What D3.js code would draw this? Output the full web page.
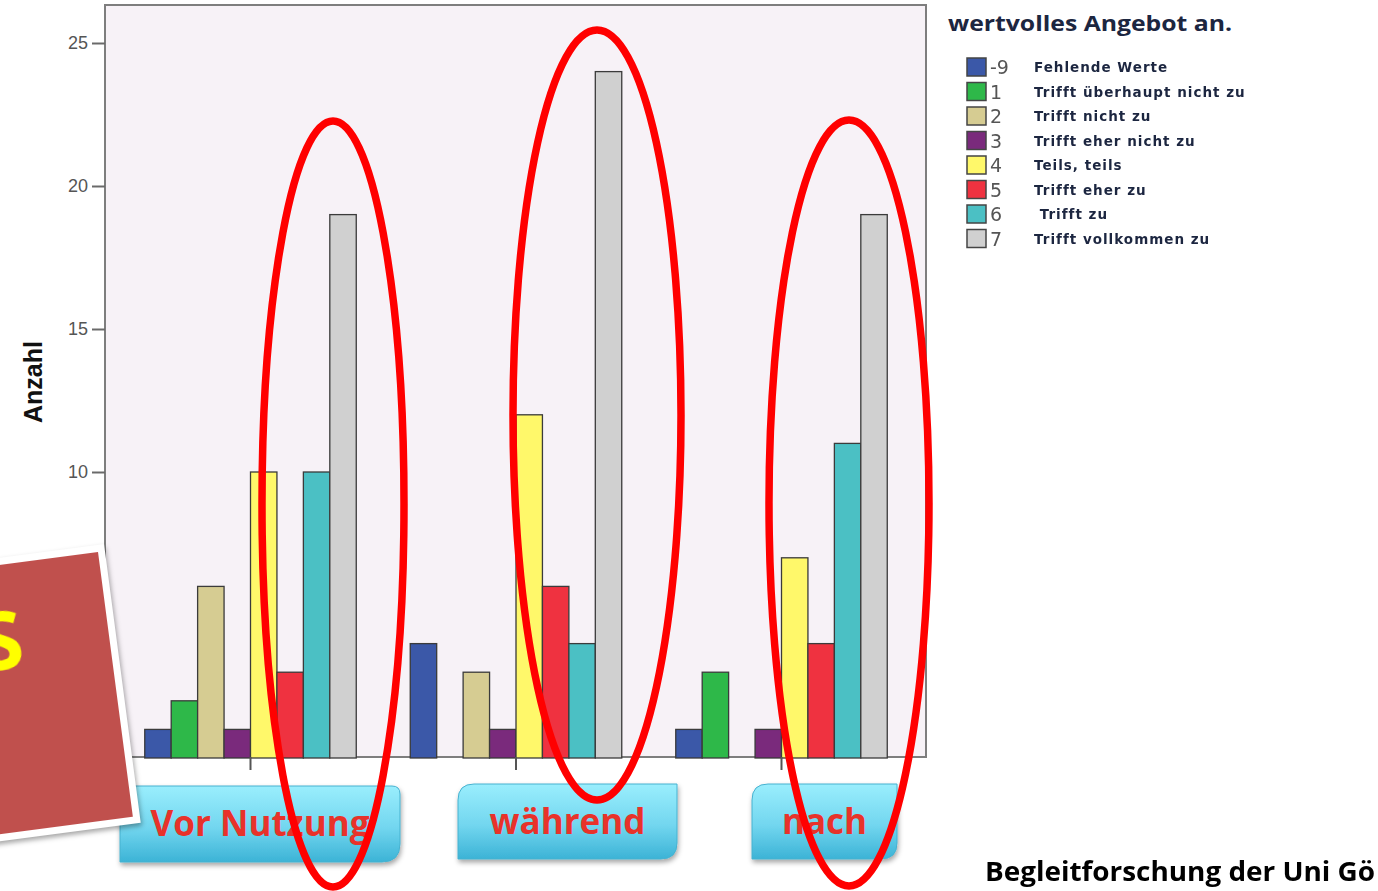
<!DOCTYPE html>
<html><head><meta charset="utf-8">
<script src="https://cdn.jsdelivr.net/npm/d3@7"></script>
<style>body{margin:0;background:#fff;} svg{display:block;}</style>
</head><body>
<svg id="c" width="1378" height="891"></svg>
<script>
const groups = ["Vor Nutzung", "während", "nach"];
const codes = ["-9", "1", "2", "3", "4", "5", "6", "7"];
const codeLabels = ["Fehlende Werte", "Trifft überhaupt nicht zu", "Trifft nicht zu", "Trifft eher nicht zu", "Teils, teils", "Trifft eher zu", " Trifft zu", "Trifft vollkommen zu"];
const colors = ["#3a58a8", "#2db84a", "#d6cc92", "#7a2a7c", "#fff86a", "#ef3340", "#4cc0c4", "#d0d0d0"];
const valsVor = [1, 2, 6, 1, 10, 3, 10, 19];
const valsWaehrend = [4, 0, 3, 1, 12, 6, 4, 24];
const valsNach = [1, 3, 0, 1, 7, 4, 11, 19];
const yTicks = [10, 15, 20, 25];
const title = "wertvolles Angebot an.";
const yTitle = "Anzahl";
const footer = "Begleitforschung der Uni Gö";

const series = [valsVor, valsWaehrend, valsNach];
const svg = d3.select("#c");

const plot = {l: 105, r: 926, t: 5, b: 757};
const x = d3.scaleBand().domain(groups).range([117.75, 914.25]);
const xi = d3.scaleBand().domain(codes).range([27, x.bandwidth() - 27]);
const y = d3.scaleLinear().domain([0, 25]).range([758, 43]);

// defs
const defs = svg.append("defs");
const grad = defs.append("linearGradient").attr("id", "btn").attr("x1", 0).attr("x2", 0).attr("y1", 0).attr("y2", 1);
grad.append("stop").attr("offset", "0%").attr("stop-color", "#9aeefd");
grad.append("stop").attr("offset", "55%").attr("stop-color", "#72d6ef");
grad.append("stop").attr("offset", "100%").attr("stop-color", "#3cb3d6");
const sh = defs.append("filter").attr("id", "sh").attr("x", "-20%").attr("y", "-20%").attr("width", "140%").attr("height", "150%");
sh.append("feDropShadow").attr("dx", 1).attr("dy", 3).attr("stdDeviation", 2.5).attr("flood-color", "#000").attr("flood-opacity", 0.35);
const bl = defs.append("filter").attr("id", "bl");
bl.append("feGaussianBlur").attr("stdDeviation", 0.5);

// plot background & frame
svg.append("rect").attr("x", plot.l).attr("y", plot.t).attr("width", plot.r - plot.l).attr("height", plot.b - plot.t)
  .attr("fill", "#f7f2f7").attr("stroke", "#7e7e7e").attr("stroke-width", 2);

// bars
const g = svg.append("g").attr("filter", "url(#bl)");
groups.forEach((grp, gi) => {
  const gg = g.append("g").attr("transform", `translate(${x(grp)},0)`);
  gg.selectAll("rect").data(series[gi].map((v, i) => ({v, i}))).join("rect")
    .filter(d => d.v > 0)
    .attr("x", d => xi(codes[d.i]))
    .attr("width", xi.bandwidth())
    .attr("y", d => y(d.v))
    .attr("height", d => y(0) - y(d.v))
    .attr("fill", d => colors[d.i])
    .attr("stroke", "#3a3a3a").attr("stroke-width", 1.3);
});

// y axis
const yAxis = d3.axisLeft(y).tickValues(yTicks).tickSize(13).tickPadding(4);
const ya = svg.append("g").attr("transform", `translate(${plot.l},0)`).call(yAxis);
ya.select(".domain").remove();
ya.selectAll(".tick line").attr("stroke", "#6a6a6a").attr("stroke-width", 2);
ya.selectAll(".tick text").attr("fill", "#555").attr("font-family", "Liberation Sans, Arial, sans-serif").attr("font-size", 18);

// x axis ticks
const xAxis = d3.axisBottom(x).tickSize(13).tickFormat("");
const xa = svg.append("g").attr("transform", `translate(0,${plot.b})`).call(xAxis);
xa.select(".domain").remove();
xa.selectAll(".tick line").attr("stroke", "#555").attr("stroke-width", 2);

// y title
svg.append("text").attr("transform", "translate(42,382) rotate(-90)").attr("text-anchor", "middle")
  .attr("font-family", "Liberation Sans, Arial, sans-serif").attr("font-weight", "bold").attr("font-size", 25).attr("fill", "#111").text(yTitle);

// title & legend
svg.append("text").attr("x", 948).attr("y", 31).attr("font-family", "Open Sans, sans-serif").attr("font-weight", "bold")
  .attr("font-size", 22).attr("fill", "#1c2640").attr("textLength", 284).attr("lengthAdjust", "spacingAndGlyphs").text(title);
const lg = svg.append("g").attr("filter", "url(#bl)");
codes.forEach((c, i) => {
  const cy = 67 + i * 24.5;
  lg.append("rect").attr("x", 967).attr("y", cy - 9).attr("width", 19).attr("height", 18)
    .attr("fill", colors[i]).attr("stroke", "#444").attr("stroke-width", 1.5);
  lg.append("text").attr("x", 990).attr("y", cy + 7).attr("font-family", "DejaVu Sans, sans-serif").attr("font-size", 19)
    .attr("fill", "#555").text(c);
  lg.append("text").attr("x", 1034).attr("y", cy + 5).attr("font-family", "DejaVu Sans, sans-serif").attr("font-size", 13.5)
    .attr("font-weight", "bold").attr("letter-spacing", 1).attr("fill", "#1c2640").style("white-space", "pre").text(codeLabels[i]);
});

// buttons
const buttons = [
  {x0: 120, x1: 400, y0: 786, y1: 862, tl: 0, tr: 8, br: 18, bl: 0},
  {x0: 458, x1: 677, y0: 784, y1: 859, tl: 16, tr: 0, br: 16, bl: 0},
  {x0: 752, x1: 897, y0: 784, y1: 859, tl: 16, tr: 0, br: 16, bl: 0}
];
function rr(b) {
  const p = d3.path();
  p.moveTo(b.x0 + b.tl, b.y0);
  p.lineTo(b.x1 - b.tr, b.y0);
  if (b.tr) p.quadraticCurveTo(b.x1, b.y0, b.x1, b.y0 + b.tr);
  p.lineTo(b.x1, b.y1 - b.br);
  if (b.br) p.quadraticCurveTo(b.x1, b.y1, b.x1 - b.br, b.y1);
  p.lineTo(b.x0 + b.bl, b.y1);
  p.lineTo(b.x0, b.y0 + b.tl);
  if (b.tl) p.quadraticCurveTo(b.x0, b.y0, b.x0 + b.tl, b.y0);
  p.closePath();
  return p.toString();
}
groups.forEach((grp, i) => {
  const b = buttons[i];
  svg.append("path").attr("d", rr(b)).attr("fill", "url(#btn)").attr("stroke", "#47b2d0").attr("stroke-width", 1).attr("filter", "url(#sh)");
  svg.append("text").attr("x", (b.x0 + b.x1) / 2).attr("y", (b.y0 + b.y1) / 2 + 12).attr("text-anchor", "middle")
    .attr("font-family", "Open Sans, sans-serif").attr("font-weight", "bold").attr("font-size", 35).attr("fill", "#e8322a").text(grp);
});

// red card
const card = svg.append("g").attr("transform", "translate(98,552) rotate(-7.5)");
card.append("rect").attr("x", -420).attr("y", -7).attr("width", 427).attr("height", 281).attr("fill", "#fff").attr("filter", "url(#sh)");
card.append("rect").attr("x", -420).attr("y", 0).attr("width", 420).attr("height", 267).attr("fill", "#c0504d");
card.append("text").attr("x", -86).attr("y", 104).attr("text-anchor", "end").attr("font-family", "Open Sans, sans-serif")
  .attr("font-weight", "bold").attr("font-size", 80).attr("fill", "#ffff00").text("S");

// ellipses
const ell = [{cx: 333, cy: 504, rx: 71, ry: 383}, {cx: 597, cy: 415, rx: 84, ry: 385}, {cx: 849, cy: 503, rx: 80, ry: 383}];
svg.append("g").selectAll("ellipse").data(ell).join("ellipse")
  .attr("cx", d => d.cx).attr("cy", d => d.cy).attr("rx", d => d.rx).attr("ry", d => d.ry)
  .attr("fill", "none").attr("stroke", "#ff0000").attr("stroke-width", 7.5);

// footer
svg.append("text").attr("x", 985).attr("y", 881).attr("font-family", "Open Sans, sans-serif").attr("font-weight", "bold")
  .attr("font-size", 26).attr("fill", "#000").attr("textLength", 390).attr("lengthAdjust", "spacingAndGlyphs").text(footer);
</script>
</body></html>
